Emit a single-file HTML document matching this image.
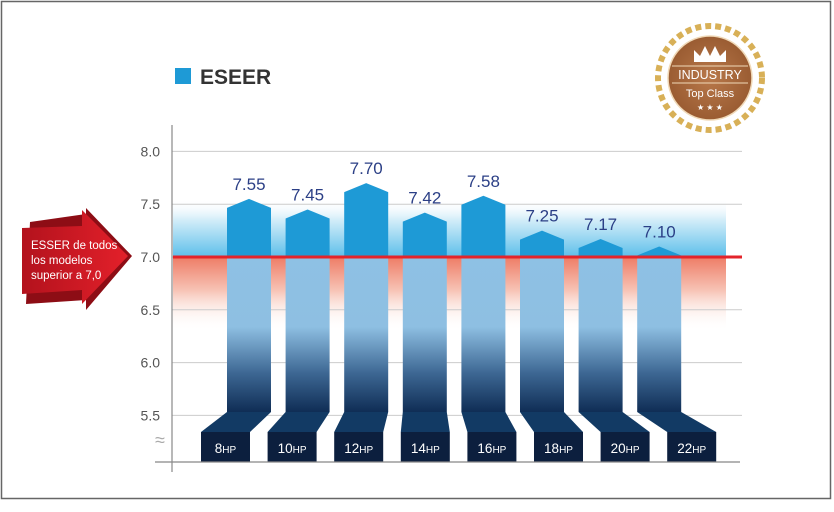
<!DOCTYPE html>
<html><head><meta charset="utf-8"><style>
body{margin:0;background:#fff;}
svg text{font-family:"Liberation Sans",sans-serif;}
</style></head><body>
<svg width="834" height="507" viewBox="0 0 834 507">
<defs>
<linearGradient id="gBlue" x1="0" y1="0" x2="0" y2="1"><stop offset="0" stop-color="#fff" stop-opacity="0"/><stop offset="0.35" stop-color="#d5eef9"/><stop offset="1" stop-color="#5dbfea"/></linearGradient>
<linearGradient id="gRed" x1="0" y1="0" x2="0" y2="1"><stop offset="0" stop-color="#ee7c66"/><stop offset="0.45" stop-color="#f7c3b5"/><stop offset="1" stop-color="#fff" stop-opacity="0"/></linearGradient>
<linearGradient id="gBar" x1="0" y1="0" x2="0" y2="1"><stop offset="0" stop-color="#8ec1e4"/><stop offset="0.45" stop-color="#8ebfe2"/><stop offset="0.75" stop-color="#3d6793"/><stop offset="1" stop-color="#0f2d55"/></linearGradient>
<linearGradient id="gArrow" x1="0" y1="0" x2="1" y2="0"><stop offset="0" stop-color="#b3121d"/><stop offset="1" stop-color="#e3202a"/></linearGradient>
<radialGradient id="gMedal"><stop offset="0" stop-color="#b8784a"/><stop offset="1" stop-color="#9a5c32"/></radialGradient>
</defs>
<rect x="1.5" y="1.5" width="829" height="497" fill="#fff" stroke="#666" stroke-width="1.5"/>
<g id="bands"></g>
<g id="grid"></g>
<g id="bars"></g>
<line x1="172" y1="125" x2="172" y2="472" stroke="#888" stroke-width="1.2"/>
<line x1="155" y1="462" x2="740" y2="462" stroke="#888" stroke-width="1.2"/>
<text x="155" y="446" font-size="18" fill="#aaa">≈</text>
<rect x="175" y="68" width="16" height="16" fill="#1e9ad6"/>
<text x="200" y="84" font-size="21" font-weight="bold" fill="#333">ESEER</text>
<g>
<polygon points="30,222 86,214 86,208 132,256 86,310 86,300 26,304" fill="#8d0d15"/>
<polygon points="22,228 82,226 82,210 128,256 82,304 82,290 22,294" fill="url(#gArrow)"/>
<text font-size="11.5" fill="#fff"><tspan x="31" y="249">ESSER de todos</tspan><tspan x="31" y="264">los modelos</tspan><tspan x="31" y="279">superior a 7,0</tspan></text>
</g>
<g>
<circle cx="710" cy="78" r="52" fill="none" stroke="#d8b057" stroke-width="6" stroke-dasharray="6 4"/>
<circle cx="710" cy="78" r="42" fill="url(#gMedal)" stroke="#f0d9b8" stroke-width="1.5"/>
<polygon points="694,62 694,50 700,56 705,46 710,56 715,46 720,56 726,50 726,62" fill="#fff"/>
<line x1="672" y1="66" x2="748" y2="66" stroke="#f0d9b8"/>
<text x="710" y="79" font-size="12.5" fill="#fff" text-anchor="middle" font-family="Liberation Serif">INDUSTRY</text>
<line x1="672" y1="83" x2="748" y2="83" stroke="#f0d9b8"/>
<text x="710" y="97" font-size="11" fill="#fff" text-anchor="middle" font-family="Liberation Serif">Top Class</text>
<text x="710" y="110" font-size="8" fill="#fff" text-anchor="middle">★ ★ ★</text>
</g>
<script>
const categories=["8","10","12","14","16","18","20","22"];
const values=[7.55,7.45,7.70,7.42,7.58,7.25,7.17,7.10];
const yTicks=[8.0,7.5,7.0,6.5,6.0,5.5];
const NS="http://www.w3.org/2000/svg";
function y(v){return 257-(v-7)*105.6;}
function x(i){return 249+i*58.6;}
function mk(tag,attrs,parent){const e=document.createElementNS(NS,tag);for(const k in attrs)e.setAttribute(k,attrs[k]);(typeof parent==='string'?document.getElementById(parent):parent).appendChild(e);return e;}
let b=mk('rect',{x:173,y:y(7.55),width:553,height:y(7)-y(7.55),fill:'url(#gBlue)'},'bands');


b=mk('rect',{x:173,y:y(7),width:553,height:y(6.3)-y(7),fill:'url(#gRed)'},'bands');


yTicks.forEach(t=>{
 const l=mk('line',{x1:172,x2:742,y1:y(t),y2:y(t),stroke:'#ccc','stroke-width':1},'grid');
 
 
 const tx=mk('text',{x:160,y:y(t)+5,'font-size':14,fill:'#555','text-anchor':'end'},'grid');
 
 
 tx.textContent=t.toFixed(1);
});
const bottom=412;
values.forEach((v,i)=>{
 const c=x(i),w=22,top=y(v);
 const d=-26+i*8;
 const bl=c-w+d, br=bl+49;
 const low=mk('rect',{x:c-w,y:y(7),width:2*w,height:bottom-y(7),fill:'url(#gBar)'},'bars');
 
 
 const up=mk('polygon',{points:`${c-w},${y(7)} ${c-w},${top+9} ${c},${top} ${c+w},${top+9} ${c+w},${y(7)}`,fill:'#1e9ad6'},'bars');
 
 
 const slab=mk('polygon',{points:`${c-w},${bottom} ${c+w},${bottom} ${br},432 ${bl},432`,fill:'#123a64'},'bars');
 
 
 const box=mk('rect',{x:bl,y:432,width:49,height:30,fill:'#0c1f3e'},'bars');
 
 
 const lb=mk('text',{x:bl+24.5,y:453,'font-size':13.5,fill:'#fff','text-anchor':'middle'},'bars');
 
 
 lb.appendChild(document.createTextNode(categories[i]));
 const ts=mk('tspan',{'font-size':10},lb);
 ts.textContent='HP';
 const vl=mk('text',{x:c,y:top-9,'font-size':17,fill:'#2b3f86','text-anchor':'middle'},'bars');
 
 
 vl.textContent=v.toFixed(2);
});
const th=mk('line',{x1:173,x2:742,y1:y(7),y2:y(7),stroke:'#e3242b','stroke-width':3},'bars');


</script>
</svg>
</body></html>
